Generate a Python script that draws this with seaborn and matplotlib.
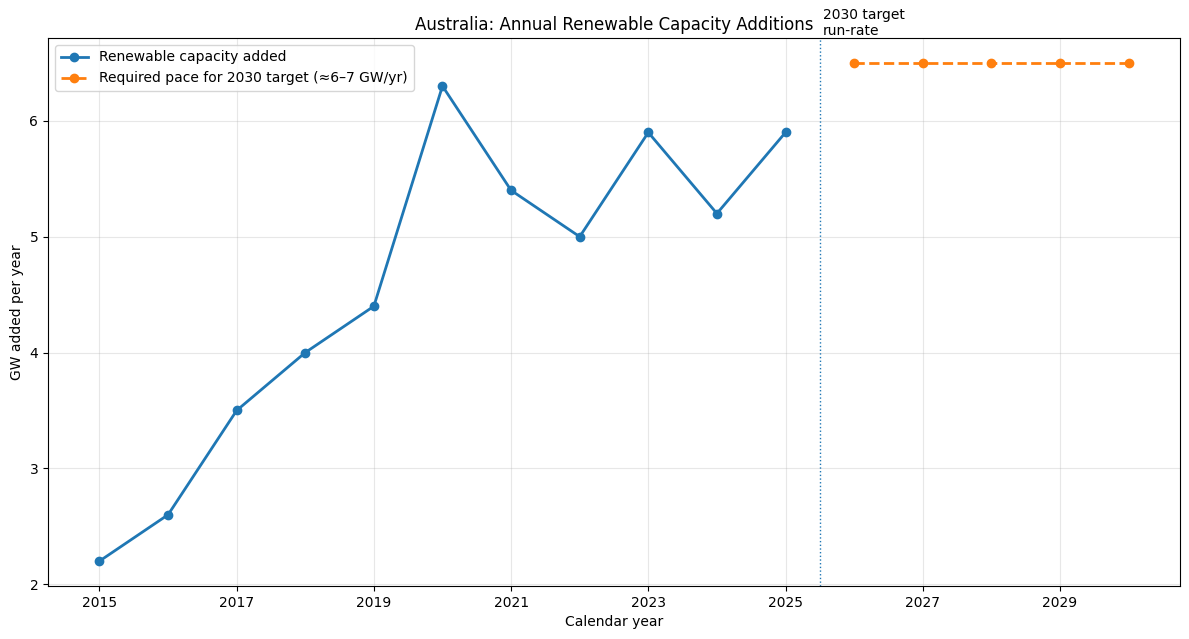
import matplotlib
matplotlib.use("Agg")
import matplotlib.pyplot as plt
import seaborn as sns
import pandas as pd

years_actual = [2015, 2016, 2017, 2018, 2019, 2020, 2021, 2022, 2023, 2024, 2025]
gw_actual = [2.2, 2.6, 3.5, 4.0, 4.4, 6.3, 5.4, 5.0, 5.9, 5.2, 5.9]
years_target = [2026, 2027, 2028, 2029, 2030]
gw_target = [6.5, 6.5, 6.5, 6.5, 6.5]
xticks = [2015, 2017, 2019, 2021, 2023, 2025, 2027, 2029]

df_a = pd.DataFrame({"year": years_actual, "gw": gw_actual})
df_t = pd.DataFrame({"year": years_target, "gw": gw_target})

fig, ax = plt.subplots(figsize=(11.89, 6.39), dpi=100)
fig.subplots_adjust(left=48/1189, right=1180/1189, top=1-38/639, bottom=1-586/639)

sns.lineplot(data=df_a, x="year", y="gw", ax=ax, color="C0", linewidth=2,
             marker="o", markersize=6, markeredgewidth=1, markeredgecolor="C0",
             label="Renewable capacity added")
sns.lineplot(data=df_t, x="year", y="gw", ax=ax, color="C1", linewidth=2,
             linestyle="--", marker="o", markersize=6, markeredgewidth=1,
             markeredgecolor="C1",
             label="Required pace for 2030 target (≈6–7 GW/yr)")

ax.axvline(2025.5, color="C0", linestyle=":", linewidth=1)
ax.text(2025.55, 1.0, "2030 target\nrun-rate", transform=ax.get_xaxis_transform(),
        va="bottom", ha="left", fontsize=10)

ax.set_xticks(xticks)
ax.set_xticklabels([str(x) for x in xticks])
ax.set_xlim(2014.25, 2030.75)
ax.grid(True, alpha=0.3)
ax.set_title("Australia: Annual Renewable Capacity Additions", fontsize=12)
ax.set_xlabel("Calendar year")
ax.set_ylabel("GW added per year")
ax.legend(loc="upper left")

fig.savefig("out.png", dpi=100)
